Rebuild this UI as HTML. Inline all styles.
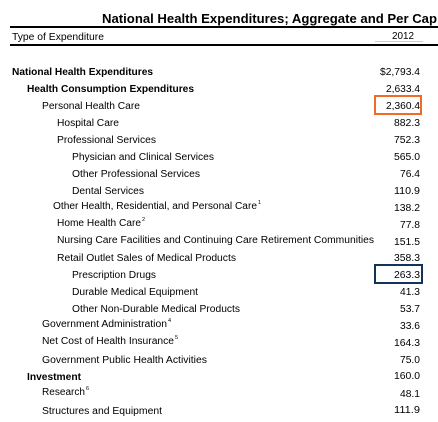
<!DOCTYPE html>
<html><head><meta charset="utf-8"><style>
html,body{margin:0;padding:0;background:#fff;}
body{width:438px;height:422px;overflow:hidden;}
svg{display:block;font-family:"Liberation Sans",Arial,sans-serif;}
text{font-size:10px;fill:#000;}
.b{font-weight:bold;}
.s{font-size:5.5px;}
</style></head><body>
<svg width="438" height="422" viewBox="0 0 438 422">
<text class="b" x="102" y="23" style="font-size:12.5px" textLength="335" lengthAdjust="spacingAndGlyphs">National Health Expenditures; Aggregate and Per Cap</text>
<rect x="10" y="26" width="428" height="2" fill="#000"/>
<text x="12" y="40" textLength="92" lengthAdjust="spacingAndGlyphs">Type of Expenditure</text>
<text x="392" y="39" textLength="22" lengthAdjust="spacingAndGlyphs">2012</text>
<rect x="375" y="41" width="48" height="1" fill="#ccc"/>
<rect x="10" y="44" width="428" height="2" fill="#000"/>

<text class="b" x="12" y="75" textLength="141" lengthAdjust="spacingAndGlyphs">National Health Expenditures</text>
<text x="420" y="75" text-anchor="end" textLength="40" lengthAdjust="spacingAndGlyphs">$2,793.4</text>
<text class="b" x="27" y="92" textLength="167" lengthAdjust="spacingAndGlyphs">Health Consumption Expenditures</text>
<text x="420" y="92" text-anchor="end" textLength="34" lengthAdjust="spacingAndGlyphs">2,633.4</text>
<text x="42" y="109" textLength="98" lengthAdjust="spacingAndGlyphs">Personal Health Care</text>
<text x="420" y="109" text-anchor="end" textLength="34" lengthAdjust="spacingAndGlyphs">2,360.4</text>
<rect x="375" y="96" width="46" height="18" fill="none" stroke="#f06a2a" stroke-width="2"/>
<text x="57" y="126" textLength="62" lengthAdjust="spacingAndGlyphs">Hospital Care</text>
<text x="420" y="126" text-anchor="end" textLength="26" lengthAdjust="spacingAndGlyphs">882.3</text>
<text x="57" y="143" textLength="99" lengthAdjust="spacingAndGlyphs">Professional Services</text>
<text x="420" y="143" text-anchor="end" textLength="26" lengthAdjust="spacingAndGlyphs">752.3</text>
<text x="72" y="160" textLength="142" lengthAdjust="spacingAndGlyphs">Physician and Clinical Services</text>
<text x="420" y="160" text-anchor="end" textLength="26" lengthAdjust="spacingAndGlyphs">565.0</text>
<text x="72" y="177" textLength="128" lengthAdjust="spacingAndGlyphs">Other Professional Services</text>
<text x="420" y="177" text-anchor="end" textLength="20" lengthAdjust="spacingAndGlyphs">76.4</text>
<text x="72" y="194" textLength="72" lengthAdjust="spacingAndGlyphs">Dental Services</text>
<text x="420" y="194" text-anchor="end" textLength="26" lengthAdjust="spacingAndGlyphs">110.9</text>
<text x="53" y="209" textLength="204" lengthAdjust="spacingAndGlyphs">Other Health, Residential, and Personal Care</text>
<text class="s" x="258" y="204">1</text>
<text x="420" y="211" text-anchor="end" textLength="26" lengthAdjust="spacingAndGlyphs">138.2</text>
<text x="57" y="226" textLength="84" lengthAdjust="spacingAndGlyphs">Home Health Care</text>
<text class="s" x="142" y="221">2</text>
<text x="420" y="228" text-anchor="end" textLength="20" lengthAdjust="spacingAndGlyphs">77.8</text>
<text x="57" y="243" textLength="317" lengthAdjust="spacingAndGlyphs">Nursing Care Facilities and Continuing Care Retirement Communities</text>
<text x="420" y="245" text-anchor="end" textLength="26" lengthAdjust="spacingAndGlyphs">151.5</text>
<text x="57" y="261" textLength="179" lengthAdjust="spacingAndGlyphs">Retail Outlet Sales of Medical Products</text>
<text x="420" y="261" text-anchor="end" textLength="26" lengthAdjust="spacingAndGlyphs">358.3</text>
<text x="72" y="278" textLength="84" lengthAdjust="spacingAndGlyphs">Prescription Drugs</text>
<text x="420" y="278" text-anchor="end" textLength="26" lengthAdjust="spacingAndGlyphs">263.3</text>
<rect x="375" y="265" width="47" height="18" fill="none" stroke="#12345a" stroke-width="2"/>
<text x="72" y="295" textLength="126" lengthAdjust="spacingAndGlyphs">Durable Medical Equipment</text>
<text x="420" y="295" text-anchor="end" textLength="20" lengthAdjust="spacingAndGlyphs">41.3</text>
<text x="72" y="312" textLength="168" lengthAdjust="spacingAndGlyphs">Other Non-Durable Medical Products</text>
<text x="420" y="312" text-anchor="end" textLength="20" lengthAdjust="spacingAndGlyphs">53.7</text>
<text x="42" y="327" textLength="125" lengthAdjust="spacingAndGlyphs">Government Administration</text>
<text class="s" x="168" y="322">4</text>
<text x="420" y="329" text-anchor="end" textLength="20" lengthAdjust="spacingAndGlyphs">33.6</text>
<text x="42" y="344" textLength="132" lengthAdjust="spacingAndGlyphs">Net Cost of Health Insurance</text>
<text class="s" x="175" y="339">5</text>
<text x="420" y="346" text-anchor="end" textLength="26" lengthAdjust="spacingAndGlyphs">164.3</text>
<text x="42" y="363" textLength="165" lengthAdjust="spacingAndGlyphs">Government Public Health Activities</text>
<text x="420" y="363" text-anchor="end" textLength="20" lengthAdjust="spacingAndGlyphs">75.0</text>
<text class="b" x="27" y="380" textLength="54" lengthAdjust="spacingAndGlyphs">Investment</text>
<text x="420" y="379" text-anchor="end" textLength="26" lengthAdjust="spacingAndGlyphs">160.0</text>
<text x="42" y="395" textLength="43" lengthAdjust="spacingAndGlyphs">Research</text>
<text class="s" x="86" y="390">6</text>
<text x="420" y="397" text-anchor="end" textLength="20" lengthAdjust="spacingAndGlyphs">48.1</text>
<text x="42" y="414" textLength="120" lengthAdjust="spacingAndGlyphs">Structures and Equipment</text>
<text x="420" y="413" text-anchor="end" textLength="26" lengthAdjust="spacingAndGlyphs">111.9</text>
</svg>
</body></html>
